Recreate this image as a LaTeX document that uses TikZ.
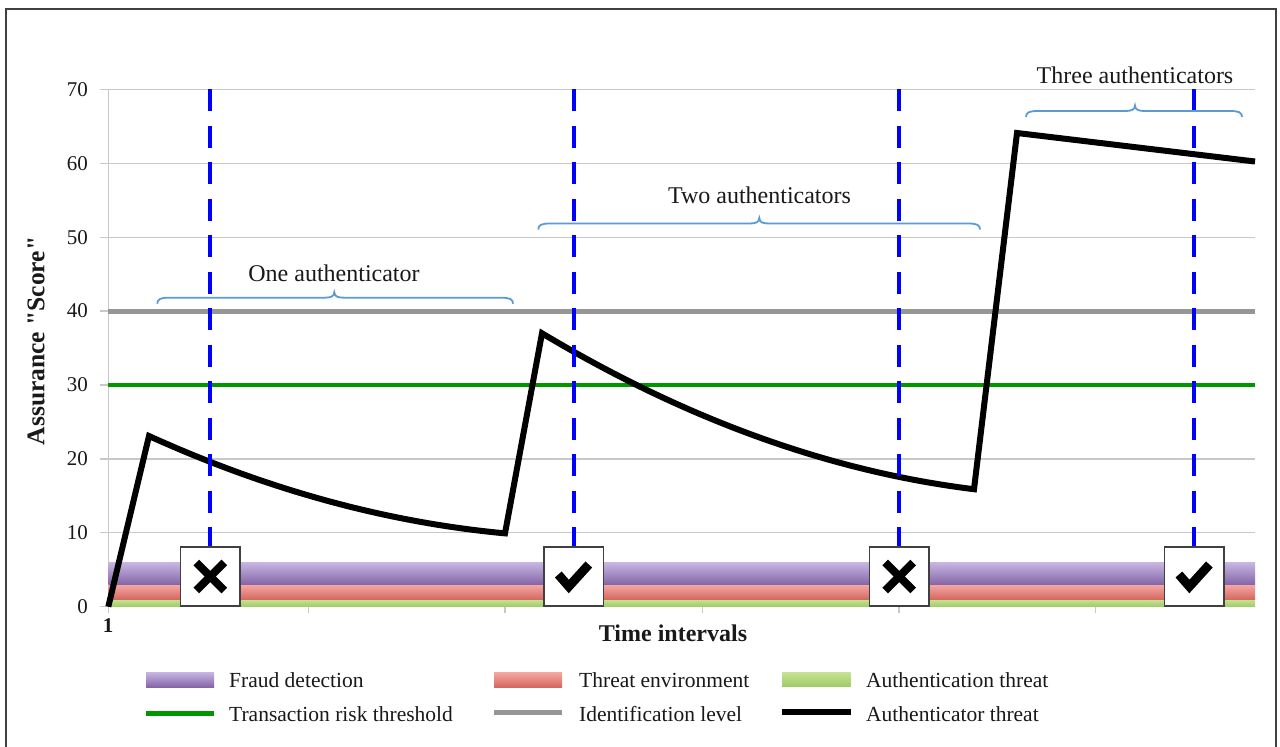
\documentclass[tikz,border=0pt]{standalone}
\usepackage{fontspec}
\setmainfont{Liberation Serif}
\newfontfamily\plainserif{Liberation Serif}
\usetikzlibrary{calc}
\definecolor{gridgray}{RGB}{200,200,200}
\definecolor{levelgray}{RGB}{150,150,150}
\definecolor{riskgreen}{RGB}{0,150,0}
\definecolor{dashblue}{RGB}{0,0,255}
\definecolor{bracecol}{RGB}{91,155,213}
\definecolor{fraudtop}{RGB}{200,182,226}
\definecolor{fraudbot}{RGB}{132,102,168}
\definecolor{envtop}{RGB}{246,168,164}
\definecolor{envbot}{RGB}{212,104,96}
\definecolor{authtop}{RGB}{200,226,150}
\definecolor{authbot}{RGB}{160,204,102}
\definecolor{framegray}{RGB}{64,64,64}
\definecolor{textcol}{RGB}{25,25,25}
% curly brace: left end, cusp, right end, height of the flat part
\newcommand{\curlybrace}[4]{%
  \draw[bracestroke] (#1,{#4+6}) .. controls (#1,{#4+1.5}) and ({#1+3},#4) .. ({#1+12},#4)
    -- ({#2-10},#4) .. controls ({#2-4},#4) and (#2,{#4-1}) .. (#2,{#4-5.5})
    .. controls (#2,{#4-1}) and ({#2+4},#4) .. ({#2+10},#4)
    -- ({#3-12},#4) .. controls ({#3-3},#4) and (#3,{#4+1.5}) .. (#3,{#4+6});}
\begin{document}
\begin{tikzpicture}[x=1pt,y=-1pt,
  gridline/.style={draw=gridgray,line width=1.3pt},
  ticklabel/.style={font=\fontsize{21}{24}\selectfont,text=textcol,anchor=east,inner sep=0pt},
  bracetext/.style={font=\fontsize{24}{28}\selectfont,text=textcol,anchor=base,inner sep=0pt},
  axistitle/.style={font=\bfseries\fontsize{24}{28}\selectfont,text=textcol,inner sep=0pt},
  legendtext/.style={font=\fontsize{21.5}{25}\selectfont,text=textcol,anchor=base west,inner sep=0pt},
  bracestroke/.style={draw=bracecol,line width=1.8pt},
  marker/.style={draw=dashblue,line width=4pt,dash pattern=on 22pt off 14.5pt},
  verdict/.style={draw=framegray,fill=white,line width=1.6pt,minimum width=59.5pt,minimum height=59.5pt,inner sep=0pt},
  glyph/.style={draw=black,line width=8pt,line join=miter},
]
\useasboundingbox (0,0) rectangle (1280,747);
\fill[white] (0,0) rectangle (1280,747);
% outer frame
\draw[framegray,line width=1.8pt] (5.7,760) -- (5.7,9) -- (1276,9) -- (1276,760);

% grid and axes
\foreach \v in {0,10,...,70}
  \draw[gridline] (100,{606.7-7.39*\v}) -- (1255,{606.7-7.39*\v});
\draw[gridline] (108.3,89.4) -- (108.3,613);
\foreach \t in {308.3,505,702.7,899,1095.5}
  \draw[gridline] (\t,606.7) -- (\t,613);
\foreach \v in {0,10,...,70}
  \node[ticklabel] (yl\v) at (88,{606.7-7.39*\v}) {\v};
\node[font=\bfseries\fontsize{21}{24}\selectfont,text=textcol,inner sep=0pt] (xl1) at (108,626) {1};
\node[axistitle,font=\plainserif\bfseries\fontsize{25.5}{30}\selectfont,rotate=90] (ytitle) at (36,341) {Assurance "Score"};
\node[axistitle,anchor=base] (xtitle) at (673,641) {Time intervals};

% stacked threat bands
\shade[top color=authtop,bottom color=authbot] (108.3,599.3) rectangle (1255,606.7);
\shade[top color=envtop,bottom color=envbot] (108.3,584.5) rectangle (1255,599.3);
\shade[top color=fraudtop,bottom color=fraudbot] (108.3,562.4) rectangle (1255,584.5);

% identification level (40) and transaction risk threshold (30)
\draw[levelgray,line width=5pt] (108.3,311.1) -- (1255,311.1);
\draw[riskgreen,line width=4.5pt] (108.3,385) -- (1255,385);

% authenticator threat: score decays between authentications
\draw[black,line width=6pt,line join=miter]
  (108.3,606.7)
  -- plot[domain=149:505,samples=60]
     (\x,{606.7-7.39*0.6243*(37-8.102*(1.2135*(\x-149)/100)+0.7447*(1.2135*(\x-149)/100)^2)})
  -- plot[domain=542:974,samples=70]
     (\x,{606.7-7.39*(37-8.102*((\x-542)/100)+0.7447*((\x-542)/100)^2)})
  -- (1017,133) -- (1255,161.5);

% transaction markers
\foreach \x in {210.3,573.8,899.2,1194.4}
  \draw[marker] (\x,89.4) -- (\x,600);
\node[verdict] (boxa) at (210.3,576.5) {};
\node[verdict] (boxb) at (573.8,576.5) {};
\node[verdict] (boxc) at (899.2,576.5) {};
\node[verdict] (boxd) at (1194.4,576.5) {};
% denied
\draw[glyph] ($(boxa)+(-14,-14)$) -- ($(boxa)+(14,14)$);
\draw[glyph] ($(boxa)+(-14,14)$) -- ($(boxa)+(14,-14)$);
\draw[glyph] ($(boxc)+(-14,-14)$) -- ($(boxc)+(14,14)$);
\draw[glyph] ($(boxc)+(-14,14)$) -- ($(boxc)+(14,-14)$);
% accepted
\draw[glyph,line width=9pt] ($(boxb)+(-15.5,-2)$) -- ($(boxb)+(-5,10)$) -- ($(boxb)+(15,-12)$);
\draw[glyph,line width=9pt] ($(boxd)+(-15.5,-2)$) -- ($(boxd)+(-5,10)$) -- ($(boxd)+(15,-12)$);

% authenticator spans
\curlybrace{157.3}{334.3}{513}{297.7}
\curlybrace{538.3}{759.3}{980}{223.5}
\curlybrace{1026}{1135}{1242}{111}
\node[bracetext] (one) at (334,281.7) {One authenticator};
\node[bracetext] (two) at (759.5,203.3) {Two authenticators};
\node[bracetext] (three) at (1135,83) {Three authenticators};

% legend
\shade[top color=fraudtop,bottom color=fraudbot] (146,672) rectangle (214,687);
\shade[top color=envtop,bottom color=envbot] (494,672) rectangle (562,687);
\shade[top color=authtop,bottom color=authbot] (782,672) rectangle (850.7,686);
\draw[riskgreen,line width=5pt] (146,713) -- (214,713);
\draw[levelgray,line width=5pt] (494,712.7) -- (562,712.7);
\draw[black,line width=6pt] (782,711.7) -- (850.7,711.7);
\node[legendtext] (lg1) at (229,687.4) {Fraud detection};
\node[legendtext] (lg2) at (579,687.4) {Threat environment};
\node[legendtext] (lg3) at (866,687.4) {Authentication threat};
\node[legendtext] (lg4) at (229,721) {Transaction risk threshold};
\node[legendtext] (lg5) at (579,721) {Identification level};
\node[legendtext] (lg6) at (866,721) {Authenticator threat};
\end{tikzpicture}
\end{document}
